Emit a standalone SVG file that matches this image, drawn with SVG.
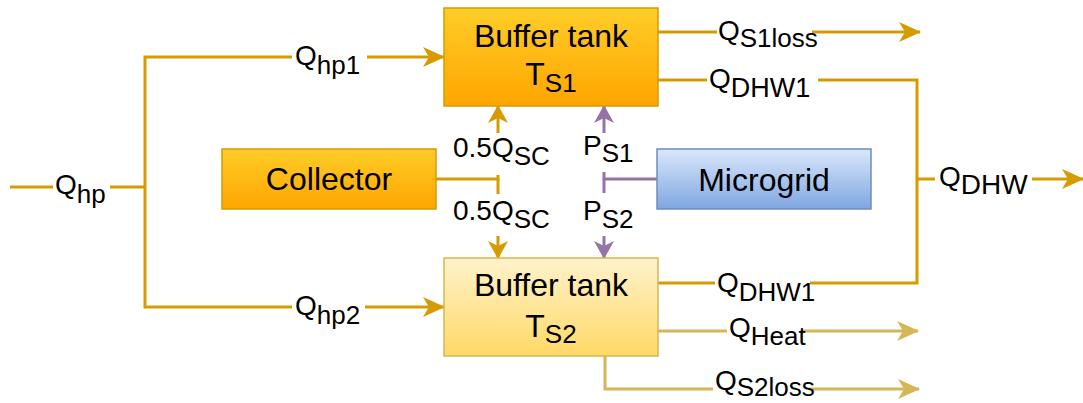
<svg xmlns="http://www.w3.org/2000/svg" width="1083" height="403" viewBox="0 0 1083 403">
  <style>
    .txt { font-family: "Liberation Sans", Arial, sans-serif; fill: #000; }
    .node { font-size: 32px; }
    .lbl { font-size: 28px; }
    .sub { font-size: 26px; }
    .bg { fill: #ffffff; }
    .flow { fill: none; stroke: #d79b00; stroke-width: 3; }
    .flow-lt { fill: none; stroke: #d6b656; stroke-width: 3; }
    .power { fill: none; stroke: #9673a6; stroke-width: 3; }
  </style>
  <defs>
    <linearGradient id="gOrange" x1="0" y1="0" x2="0" y2="1">
      <stop offset="0" stop-color="#ffcd28"/>
      <stop offset="1" stop-color="#ffa500"/>
    </linearGradient>
    <linearGradient id="gYellow" x1="0" y1="0" x2="0" y2="1">
      <stop offset="0" stop-color="#fff2cc"/>
      <stop offset="1" stop-color="#ffd966"/>
    </linearGradient>
    <linearGradient id="gBlue" x1="0" y1="0" x2="0" y2="1">
      <stop offset="0" stop-color="#dae8fc"/>
      <stop offset="1" stop-color="#7ea6e0"/>
    </linearGradient>
    <marker id="arrOrange" markerUnits="userSpaceOnUse" markerWidth="22" markerHeight="22" viewBox="0 0 22 22" refX="21" refY="11" orient="auto">
      <path d="M0,1 L22,11 L0,21 L6,11 Z" fill="#d79b00"/>
    </marker>
    <marker id="arrLight" markerUnits="userSpaceOnUse" markerWidth="22" markerHeight="22" viewBox="0 0 22 22" refX="21" refY="11" orient="auto">
      <path d="M0,1 L22,11 L0,21 L6,11 Z" fill="#d6b656"/>
    </marker>
    <marker id="arrOrangeSm" markerUnits="userSpaceOnUse" markerWidth="18" markerHeight="20" viewBox="0 0 18 20" refX="17" refY="10" orient="auto">
      <path d="M0,0 L18,10 L0,20 L5,10 Z" fill="#d79b00"/>
    </marker>
    <marker id="arrPurpleSm" markerUnits="userSpaceOnUse" markerWidth="18" markerHeight="20" viewBox="0 0 18 20" refX="17" refY="10" orient="auto">
      <path d="M0,0 L18,10 L0,20 L5,10 Z" fill="#9673a6"/>
    </marker>
  </defs>

  <rect width="1083" height="403" fill="#ffffff"/>

  <g id="connectors">
    <!-- heat pump supply, split to both tanks -->
    <path class="flow" d="M10,187 H145"/>
    <rect class="bg" x="53" y="170" width="57" height="38"/>
    <text class="txt lbl" x="55" y="194">Q<tspan class="sub" dy="9">hp</tspan></text>

    <path class="flow" d="M145,187 V57 H444" marker-end="url(#arrOrange)"/>
    <rect class="bg" x="292" y="40" width="75" height="40"/>
    <text class="txt lbl" x="295" y="65">Q<tspan class="sub" dy="9">hp1</tspan></text>

    <path class="flow" d="M145,187 V307 H444" marker-end="url(#arrOrange)"/>
    <rect class="bg" x="292" y="290" width="73" height="40"/>
    <text class="txt lbl" x="295" y="315">Q<tspan class="sub" dy="9">hp2</tspan></text>

    <!-- collector heat, split half to each tank -->
    <path class="flow" d="M436,179 H498 V106" marker-end="url(#arrOrangeSm)"/>
    <path class="flow" d="M498,179 V258" marker-end="url(#arrOrangeSm)"/>
    <rect class="bg" x="450" y="133" width="102" height="42"/>
    <text class="txt lbl" x="453" y="157">0.5Q<tspan class="sub" dy="8">SC</tspan></text>
    <rect class="bg" x="450" y="194" width="102" height="42"/>
    <text class="txt lbl" x="453" y="220">0.5Q<tspan class="sub" dy="8">SC</tspan></text>

    <!-- microgrid power to both tanks -->
    <path class="power" d="M657,179 H604 V106" marker-end="url(#arrPurpleSm)"/>
    <path class="power" d="M604,179 V258" marker-end="url(#arrPurpleSm)"/>
    <rect class="bg" x="580" y="133" width="52" height="39"/>
    <text class="txt lbl" x="583" y="155">P<tspan class="sub" dy="7">S1</tspan></text>
    <rect class="bg" x="580" y="193" width="52" height="43"/>
    <text class="txt lbl" x="583" y="220">P<tspan class="sub" dy="8">S2</tspan></text>

    <!-- tank 1 outputs -->
    <path class="flow" d="M658,32 H920" marker-end="url(#arrOrange)"/>
    <rect class="bg" x="717" y="16" width="95" height="36"/>
    <text class="txt lbl" x="718" y="40">Q<tspan class="sub" dy="7">S1loss</tspan></text>

    <path class="flow" d="M658,80 H917 V283 H658"/>
    <rect class="bg" x="707" y="62" width="111" height="40"/>
    <text class="txt lbl" x="709" y="88">Q<tspan class="sub" dy="9" style="font-size:27px">DHW1</tspan></text>

    <!-- combined domestic hot water -->
    <path class="flow" d="M917,179 H1083" marker-end="url(#arrOrange)"/>
    <rect class="bg" x="935" y="160" width="97" height="38"/>
    <text class="txt lbl" x="939" y="186">Q<tspan class="sub" dy="8" style="font-size:28px">DHW</tspan></text>

    <!-- tank 2 outputs -->
    <rect class="bg" x="715" y="265" width="95" height="40"/>
    <text class="txt lbl" x="717" y="292">Q<tspan class="sub" dy="9">DHW1</tspan></text>

    <path class="flow-lt" d="M658,331 H918" marker-end="url(#arrLight)"/>
    <rect class="bg" x="727" y="312" width="75" height="36"/>
    <text class="txt lbl" x="729" y="337">Q<tspan class="sub" dy="8">Heat</tspan></text>

    <path class="flow-lt" d="M605,356 V389 H919" marker-end="url(#arrLight)"/>
    <rect class="bg" x="713" y="370" width="96" height="33"/>
    <text class="txt lbl" x="715" y="390">Q<tspan class="sub" dy="6">S2loss</tspan></text>
  </g>

  <g id="tank1">
    <rect x="444" y="8" width="214" height="98" fill="url(#gOrange)" stroke="#d79b00" stroke-width="1.5"/>
    <text class="txt node" x="551" y="47" text-anchor="middle">Buffer tank</text>
    <text class="txt node" x="551" y="85" text-anchor="middle">T<tspan class="sub" dy="7">S1</tspan></text>
  </g>

  <g id="tank2">
    <rect x="444" y="258" width="214" height="98" fill="url(#gYellow)" stroke="#d6b656" stroke-width="1.5"/>
    <text class="txt node" x="551" y="296" text-anchor="middle">Buffer tank</text>
    <text class="txt node" x="551" y="337" text-anchor="middle">T<tspan class="sub" dy="6">S2</tspan></text>
  </g>

  <g id="collector">
    <rect x="222" y="149" width="214" height="60" fill="url(#gOrange)" stroke="#d79b00" stroke-width="1.5"/>
    <text class="txt node" x="329" y="190" text-anchor="middle">Collector</text>
  </g>

  <g id="microgrid">
    <rect x="657" y="149" width="214" height="60" fill="url(#gBlue)" stroke="#6c8ebf" stroke-width="1.5"/>
    <text class="txt node" x="764" y="191" text-anchor="middle">Microgrid</text>
  </g>
</svg>
